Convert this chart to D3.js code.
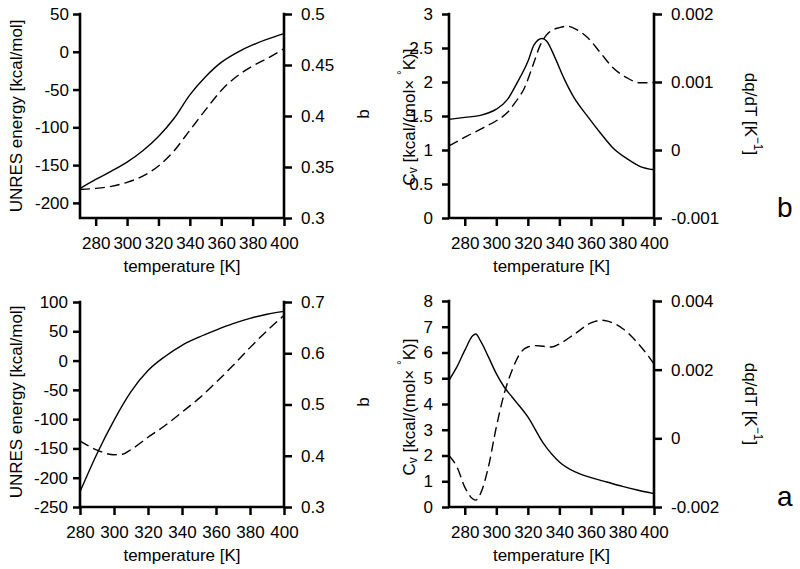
<!DOCTYPE html>
<html>
<head>
<meta charset="utf-8">
<script src="https://cdn.jsdelivr.net/npm/d3@7"></script>
<style>
  body { margin: 0; background: #fff; }
  svg text, svg tspan { font-family: "Liberation Sans", Arial, Helvetica, sans-serif; fill: #000; }
</style>
</head>
<body>
<svg id="chart" width="800" height="569"></svg>
<script>
// ---------- DATA ----------
// Panel b, left: UNRES energy (solid) and b (dashed)
const tempB1   = [270, 280, 290, 300, 310, 320, 330, 340, 350, 360, 370, 380, 390, 400];
const energyB  = [-181, -169, -158, -146, -131, -112, -88, -57, -33, -14, -1, 9, 17, 24];
const tempB1d  = [270, 280, 290, 300, 310, 320, 330, 340, 350, 360, 370, 380, 390, 400];
const bB       = [0.328, 0.329, 0.331, 0.335, 0.341, 0.351, 0.366, 0.386, 0.406, 0.425, 0.439, 0.449, 0.457, 0.466];

// Panel b, right: Cv (solid) and dq/dT (dashed)
const tempB2   = [270, 280, 290, 300, 307, 313, 320, 324, 329, 332, 337, 343, 349, 358, 366, 374, 383, 391, 400];
const cvB      = [1.45, 1.48, 1.51, 1.6, 1.74, 1.98, 2.3, 2.55, 2.64, 2.6, 2.37, 2.05, 1.78, 1.49, 1.25, 1.03, 0.87, 0.76, 0.71];
const tempB2d  = [270, 281, 292, 300, 307, 312, 318, 323, 328, 333, 340, 345, 351, 358, 366, 374, 383, 391, 400];
const dqdtB    = [0.00006, 0.0002, 0.00033, 0.00043, 0.00055, 0.0007, 0.00092, 0.00123, 0.00155, 0.00172, 0.0018, 0.00182, 0.00177, 0.00165, 0.00143, 0.00121, 0.00106, 0.00099, 0.00099];

// Panel a, left: UNRES energy (solid) and b (dashed)
const tempA1   = [280, 290, 300, 310, 320, 330, 340, 350, 360, 370, 380, 390, 400];
const energyA  = [-224, -159, -102, -53, -17, 7, 26, 40, 52, 63, 72, 79, 84];
const tempA1d  = [280, 290, 300, 305, 310, 320, 330, 340, 350, 360, 370, 380, 390, 400];
const bA       = [0.429, 0.411, 0.402, 0.403, 0.412, 0.436, 0.459, 0.485, 0.512, 0.543, 0.576, 0.611, 0.644, 0.674];

// Panel a, right: Cv (solid) and dq/dT (dashed)
const tempA2   = [270, 275, 280, 285, 287, 290, 295, 300, 305, 310, 320, 330, 340, 350, 360, 370, 380, 390, 400];
const cvA      = [4.92, 5.44, 6.08, 6.65, 6.72, 6.45, 5.83, 5.18, 4.66, 4.27, 3.5, 2.46, 1.75, 1.36, 1.14, 0.97, 0.8, 0.65, 0.52];
const tempA2d  = [270, 275, 280, 285, 287, 290, 295, 300, 305, 310, 315, 320, 325, 330, 335, 340, 350, 360, 367, 370, 380, 390, 400];
const dqdtA    = [-0.0005, -0.00083, -0.00142, -0.00176, -0.0018, -0.00161, -0.00083, 0.00033, 0.0013, 0.00198, 0.00247, 0.00266, 0.0027, 0.00268, 0.00266, 0.00275, 0.00305, 0.00336, 0.00344, 0.00342, 0.0032, 0.00276, 0.00217];

// Tick values and labels
const xTicks        = [280, 300, 320, 340, 360, 380, 400];
const energyTicksB  = [-200, -150, -100, -50, 0, 50];
const bTicksB       = [0.3, 0.35, 0.4, 0.45, 0.5];
const bTickLabelsB  = ["0.3", "0.35", "0.4", "0.45", "0.5"];
const cvTicksB      = [0, 0.5, 1, 1.5, 2, 2.5, 3];
const dqTicksB      = [-0.001, 0, 0.001, 0.002];
const dqTickLabelsB = ["-0.001", "0", "0.001", "0.002"];
const energyTicksA  = [-250, -200, -150, -100, -50, 0, 50, 100];
const bTicksA       = [0.3, 0.4, 0.5, 0.6, 0.7];
const cvTicksA      = [0, 1, 2, 3, 4, 5, 6, 7, 8];
const dqTicksA      = [-0.002, 0, 0.002, 0.004];
const dqTickLabelsA = ["-0.002", "0", "0.002", "0.004"];

const panelLetters = ["b", "a"];

// ---------- DRAW ----------
const svg = d3.select("#chart");
const fmt = v => String(v).replace("\u2212", "-");

function panel(opt) {
  const g = svg.append("g");
  const x = d3.scaleLinear().domain(opt.xDomain).range([opt.left, opt.right]);
  const yL = d3.scaleLinear().domain(opt.yLDomain).range([opt.bottom, opt.top]);
  const yR = d3.scaleLinear().domain(opt.yRDomain).range([opt.bottom, opt.top]);

  const axX = d3.axisBottom(x).tickValues(xTicks).tickSize(8).tickPadding(11).tickSizeOuter(0).tickFormat(d => String(d));
  const axL = d3.axisLeft(yL).tickValues(opt.yLTicks).tickSize(7).tickPadding(opt.padL).tickSizeOuter(0)
      .tickFormat((d, i) => opt.yLLabels ? opt.yLLabels[i] : fmt(d));
  const axR = d3.axisRight(yR).tickValues(opt.yRTicks).tickSize(8).tickPadding(9).tickSizeOuter(0)
      .tickFormat((d, i) => opt.yRLabels[i]);

  [[axX, `translate(0,${opt.bottom})`], [axL, `translate(${opt.left},0)`], [axR, `translate(${opt.right},0)`]].forEach(([ax, tr]) => {
    const a = g.append("g").attr("transform", tr).call(ax);
    a.select(".domain").remove();
    a.selectAll("line").attr("stroke", "#000").attr("stroke-width", 2.5);
    a.selectAll("text").attr("font-size", 17).attr("font-family", "Liberation Sans, Arial, sans-serif").attr("fill", "#000");
  });

  g.append("path")
    .attr("d", `M${opt.left},${opt.top}V${opt.bottom}H${opt.right}V${opt.top}`)
    .attr("fill", "none").attr("stroke", "#000").attr("stroke-width", 2.6).attr("stroke-linecap", "square");

  const lineL = d3.line().x(d => x(d[0])).y(d => yL(d[1])).curve(d3.curveMonotoneX);
  const lineR = d3.line().x(d => x(d[0])).y(d => yR(d[1])).curve(d3.curveMonotoneX);
  g.append("path").datum(d3.zip(opt.solidX, opt.solidY)).attr("d", lineL)
    .attr("fill", "none").attr("stroke", "#000").attr("stroke-width", 1.4);
  g.append("path").datum(d3.zip(opt.dashX, opt.dashY)).attr("d", lineR)
    .attr("fill", "none").attr("stroke", "#000").attr("stroke-width", 1.4).attr("stroke-dasharray", "10,5");

  // x title
  g.append("text").attr("x", (opt.left + opt.right) / 2).attr("y", opt.bottom + 54)
    .attr("text-anchor", "middle").attr("font-size", 17).text("temperature [K]");
  return g;
}

// top-left
const p1 = panel({ left: 80, right: 284, top: 14, bottom: 218, xDomain: [270, 400],
  yLDomain: [-220, 50], yRDomain: [0.3, 0.5], yLTicks: energyTicksB, yRTicks: bTicksB, yRLabels: bTickLabelsB,
  padL: 4, solidX: tempB1, solidY: energyB, dashX: tempB1d, dashY: bB });
// top-right
const p2 = panel({ left: 449, right: 654, top: 14, bottom: 218, xDomain: [270, 400],
  yLDomain: [0, 3], yRDomain: [-0.001, 0.002], yLTicks: cvTicksB, yRTicks: dqTicksB, yRLabels: dqTickLabelsB,
  padL: 9, solidX: tempB2, solidY: cvB, dashX: tempB2d, dashY: dqdtB });
// bottom-left
const p3 = panel({ left: 80, right: 284, top: 302, bottom: 507, xDomain: [280, 400],
  yLDomain: [-250, 100], yRDomain: [0.3, 0.7], yLTicks: energyTicksA, yRTicks: bTicksA, yRLabels: bTicksA.map(String),
  padL: 5, solidX: tempA1, solidY: energyA, dashX: tempA1d, dashY: bA });
// bottom-right
const p4 = panel({ left: 449, right: 654, top: 301, bottom: 507, xDomain: [270, 400],
  yLDomain: [0, 8], yRDomain: [-0.002, 0.004], yLTicks: cvTicksA, yRTicks: dqTicksA, yRLabels: dqTickLabelsA,
  padL: 9, solidX: tempA2, solidY: cvA, dashX: tempA2d, dashY: dqdtA });

// axis titles
function vtext(x, y, rot, size) {
  return svg.append("text").attr("transform", `translate(${x},${y}) rotate(${rot})`)
    .attr("text-anchor", "middle").attr("dominant-baseline", "central").attr("font-size", size).attr("fill", "#000");
}
vtext(16, 116, -90, 17).text("UNRES energy [kcal/mol]");
vtext(16, 402, -90, 17).text("UNRES energy [kcal/mol]");
vtext(363, 114, -90, 17).text("b");
vtext(363, 402, -90, 17).text("b");

function cvTitle(x, y) {
  const t = vtext(x, y, -90, 17);
  t.append("tspan").attr("fill", "#000").text("C");
  t.append("tspan").attr("fill", "#000").attr("font-size", 12).attr("dy", 4).text("v");
  t.append("tspan").attr("fill", "#000").attr("dy", -4).text(" [kcal/(mol\u00d7 ");
  t.append("tspan").attr("fill", "#000").attr("font-size", 12).attr("dy", -7).text("\u00b0");
  t.append("tspan").attr("fill", "#000").attr("dy", 7).text("K)]");
}
cvTitle(409, 117);
cvTitle(409, 407);

function dqTitle(x, y) {
  const t = vtext(x, y, 90, 17);
  t.append("tspan").attr("fill", "#000").text("dq/dT [K");
  t.append("tspan").attr("fill", "#000").attr("font-size", 12).attr("dy", -7).text("\u22121");
  t.append("tspan").attr("fill", "#000").attr("dy", 7).text("]");
}
dqTitle(751, 114);
dqTitle(751, 404);

// panel letters
svg.append("text").attr("x", 777).attr("y", 217).attr("font-size", 28).text(panelLetters[0]);
svg.append("text").attr("x", 777).attr("y", 506).attr("font-size", 28).text(panelLetters[1]);
</script>
</body>
</html>
